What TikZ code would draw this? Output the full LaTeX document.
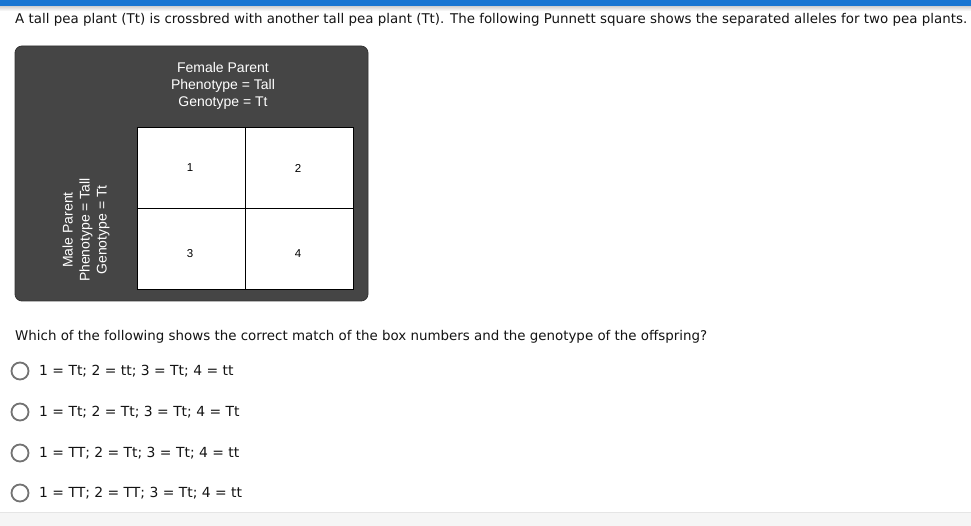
\documentclass[tikz,border=0pt]{standalone}
\usepackage{fontspec}
\setmainfont{DejaVu Sans}
\newfontfamily\arialfont{Liberation Sans}
\definecolor{barblue}{HTML}{1976D2}
\begin{document}
\begin{tikzpicture}[x=1pt,y=-1pt,
  qtext/.style={anchor=base west,inner sep=0pt,font=\fontsize{13.4}{15}\selectfont,text=black!92},
  otext/.style={qtext,font=\fontsize{13.9}{15}\selectfont},
  boxtext/.style={align=center,inner sep=0pt,text=white,font=\arialfont\fontsize{14}{17}\selectfont},
  cellbox/.style={draw=black,fill=white,line width=0.9pt,minimum width=108pt,minimum height=81pt,inner sep=0pt},
  numtext/.style={inner sep=0pt,font=\arialfont\fontsize{11.5}{13}\selectfont},
  radio/.style={draw=black!55,line width=1.8pt,circle,minimum size=17pt,inner sep=0pt}]
\useasboundingbox (0,0) rectangle (971,526);
\fill[white] (0,0) rectangle (971,526);
% top bar
\fill[barblue] (0,0) rectangle (971,7);
\shade[top color=black!15,bottom color=white] (0,7) rectangle (971,11);
\node[qtext] (q1) at (15,24) {A tall pea plant (Tt) is crossbred with another tall pea plant (Tt). The following Punnett square shows the separated alleles for two pea plants.};
% dark panel
\node[draw=black!80,fill=black!73,line width=0.8pt,rounded corners=7pt,minimum width=353pt,minimum height=255pt,inner sep=0pt] (panel) at (191.5,173.5) {};
\node[boxtext] (female) at (223,86) {Female Parent\\Phenotype = Tall\\Genotype = Tt};
\node[boxtext,rotate=90] (male) at (86,230) {Male Parent\\Phenotype = Tall\\Genotype = Tt};
% grid
\node[cellbox] (c1) at (191,167.5) {};
\node[cellbox] (c2) at (299,167.5) {};
\node[cellbox] (c3) at (191,248.5) {};
\node[cellbox] (c4) at (299,248.5) {};
\node[numtext] (n1) at (190,168) {1};
\node[numtext] (n2) at (298,168) {2};
\node[numtext] (n3) at (190,254) {3};
\node[numtext] (n4) at (298,254) {4};
% question
\node[qtext] (q2) at (15,340) {Which of the following shows the correct match of the box numbers and the genotype of the offspring?};
\node[radio] (r1) at (20,371) {};
\node[radio] (r2) at (20,412) {};
\node[radio] (r3) at (20,453) {};
\node[radio] (r4) at (20,493) {};
\node[otext] (o1) at (39,375.5) {1 = Tt; 2 = tt; 3 = Tt; 4 = tt};
\node[otext] (o2) at (39,416.5) {1 = Tt; 2 = Tt; 3 = Tt; 4 = Tt};
\node[otext] (o3) at (39,457.5) {1 = TT; 2 = Tt; 3 = Tt; 4 = tt};
\node[otext] (o4) at (39,497.5) {1 = TT; 2 = TT; 3 = Tt; 4 = tt};
% bottom band
\fill[black!4] (0,512) rectangle (971,526);
\draw[black!10] (0,512) -- (971,512);
\end{tikzpicture}
\end{document}
